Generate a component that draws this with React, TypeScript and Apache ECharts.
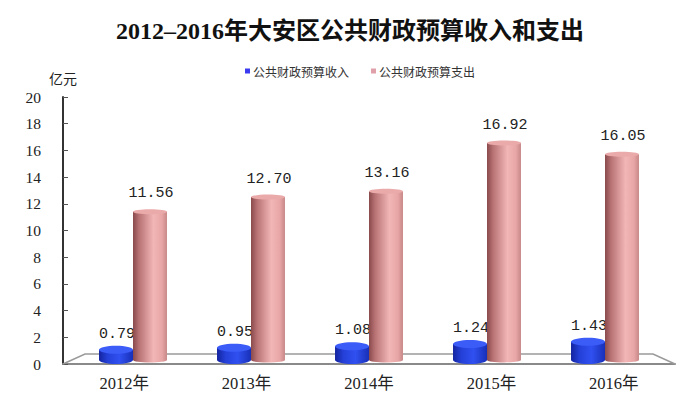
import React, { useEffect, useRef } from "react";
import * as echarts from "echarts";

const categories = ["2012年", "2013年", "2014年", "2015年", "2016年"];
const incomeValues = [0.79, 0.95, 1.08, 1.24, 1.43];
const expenditureValues = [11.56, 12.7, 13.16, 16.92, 16.05];
const seriesNames = ["公共财政预算收入", "公共财政预算支出"];
const titleText = "2012–2016年大安区公共财政预算收入和支出";
const unitName = "亿元";

const SERIF = "'Liberation Serif', 'Noto Sans CJK SC', serif";
const MONO = "'Liberation Mono', 'Noto Sans CJK SC', monospace";

type Palette = {
  side: number;
  body: { offset: number; color: string }[];
  top: string;
  ry: number;
  labelGap: number;
};

const bluePalette: Palette = {
  side: -1,
  body: [
    { offset: 0, color: "#1424a0" },
    { offset: 0.25, color: "#2440d8" },
    { offset: 0.6, color: "#3050f0" },
    { offset: 1, color: "#1830b8" },
  ],
  top: "#3c5cf8",
  ry: 4,
  labelGap: 4,
};

const pinkPalette: Palette = {
  side: 1,
  body: [
    { offset: 0, color: "#8a4a4c" },
    { offset: 0.18, color: "#b87274" },
    { offset: 0.6, color: "#f2b6b6" },
    { offset: 0.85, color: "#e8a6a6" },
    { offset: 1, color: "#c88888" },
  ],
  top: "#eaaaaa",
  ry: 2.5,
  labelGap: 8,
};

function makeRender(p: Palette) {
  return (params: any, api: any) => {
    const i = api.value(0);
    const v = api.value(1);
    const top = api.coord([i, v]);
    const base = api.coord([i, 0]);
    const w = api.size([1, 0])[0] * 0.288;
    const x0 = p.side < 0 ? top[0] - w : top[0];
    const cx = x0 + w / 2;
    const grad = new echarts.graphic.LinearGradient(0, 0, 1, 0, p.body);
    return {
      type: "group",
      children: [
        {
          type: "ellipse",
          shape: { cx, cy: base[1], rx: w / 2, ry: p.ry },
          style: { fill: grad },
        },
        {
          type: "rect",
          shape: { x: x0, y: top[1], width: w, height: base[1] - top[1] },
          style: { fill: grad },
        },
        {
          type: "ellipse",
          shape: { cx, cy: top[1], rx: w / 2, ry: p.ry },
          style: { fill: p.top },
        },
        {
          type: "text",
          style: {
            text: v.toFixed(2),
            x: cx + 1,
            y: top[1] - p.ry - p.labelGap,
            align: "center",
            verticalAlign: "bottom",
            fontFamily: MONO,
            fontSize: 15,
            fill: "#222",
          },
        },
      ],
    };
  };
}

export default function App() {
  const ref = useRef<HTMLDivElement>(null);
  useEffect(() => {
    document.body.style.margin = "0";
    const chart = echarts.init(ref.current!, null, { renderer: "svg" });
    const option: any = {
      animation: false,
      backgroundColor: "#ffffff",
      title: {
        text: titleText,
        left: "center",
        top: 19,
        padding: 0,
        textStyle: {
          fontFamily: SERIF,
          fontSize: 24,
          fontWeight: "bold",
          color: "#111",
        },
      },
      legend: {
        left: 240,
        top: 60,
        itemWidth: 5,
        itemHeight: 5,
        itemGap: 22,
        icon: "rect",
        textStyle: {
          fontFamily: "'Noto Sans CJK SC', sans-serif",
          fontSize: 12,
          color: "#333",
          padding: [0, 0, 0, -2],
        },
        data: [
          { name: seriesNames[0], itemStyle: { color: "#3a3af0" } },
          { name: seriesNames[1], itemStyle: { color: "#e0a0aa" } },
        ],
      },
      graphic: [
        {
          type: "polyline",
          z: 1,
          shape: {
            points: [
              [63, 364],
              [85, 354],
              [653, 354],
              [675, 364],
            ],
          },
          style: { stroke: "#9a9a9a", lineWidth: 1.5, fill: "none" },
        },
      ],
      grid: [
        { left: 63, right: 25, top: 97, bottom: 44 },
        { left: 74, right: 36, top: 103.5, bottom: 48 },
      ],
      xAxis: [
        {
          type: "category",
          gridIndex: 0,
          data: categories,
          boundaryGap: true,
          axisLine: { lineStyle: { color: "#8a8a8a", width: 2 } },
          axisTick: { inside: true, length: 5, lineStyle: { color: "#555", width: 1 } },
          axisLabel: {
            margin: 11,
            fontFamily: SERIF,
            fontSize: 16.5,
            color: "#222",
          },
        },
        {
          type: "category",
          gridIndex: 1,
          data: categories,
          show: false,
        },
      ],
      yAxis: [
        {
          type: "value",
          gridIndex: 0,
          min: 0,
          max: 20,
          interval: 2,
          name: unitName,
          nameLocation: "end",
          nameGap: 12,
          nameTextStyle: {
            fontFamily: "'Noto Sans CJK SC', sans-serif",
            fontSize: 14,
            color: "#222",
            align: "center",
          },
          axisLine: { show: true, lineStyle: { color: "#333", width: 2 } },
          axisTick: { show: true, inside: true, length: 5, lineStyle: { color: "#555" } },
          splitLine: { show: false },
          axisLabel: {
            margin: 22,
            fontFamily: SERIF,
            fontSize: 15.5,
            color: "#222",
          },
        },
        {
          type: "value",
          gridIndex: 1,
          min: 0,
          max: 20,
          show: false,
        },
      ],
      series: [
        {
          name: seriesNames[0],
          type: "custom",
          xAxisIndex: 1,
          yAxisIndex: 1,
          z: 3,
          itemStyle: { color: "#3a3af0" },
          renderItem: makeRender(bluePalette),
          data: incomeValues.map((v, i) => [i, v]),
        },
        {
          name: seriesNames[1],
          type: "custom",
          xAxisIndex: 1,
          yAxisIndex: 1,
          z: 4,
          itemStyle: { color: "#e0a0aa" },
          renderItem: makeRender(pinkPalette),
          data: expenditureValues.map((v, i) => [i, v]),
        },
      ],
    };
    chart.setOption(option);
    return () => chart.dispose();
  }, []);
  return <div ref={ref} style={{ width: 700, height: 408 }} />;
}
